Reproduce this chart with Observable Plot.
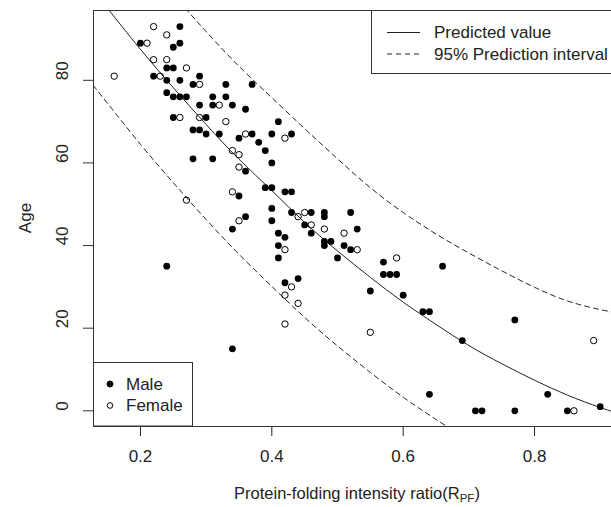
<!DOCTYPE html>
<html><head><meta charset="utf-8">
<script src="https://cdn.jsdelivr.net/npm/d3@7"></script>
<script src="https://cdn.jsdelivr.net/npm/@observablehq/plot@0.6"></script>
<style>
html,body{margin:0;padding:0;background:#fff;overflow:hidden;}
#chart{width:611px;height:507px;overflow:hidden;}
#chart svg{max-width:none !important;}
</style></head><body><div id="chart"></div>
<script>
// Male observations (filled dots)
const maleX = [0.20,0.26,0.26,0.25,0.24,0.25,0.22,0.24,0.26,0.29,0.28,0.33,0.37,0.24,0.25,0.26,0.27,0.31,0.33,0.31,
  0.29,0.34,0.36,0.25,0.30,0.28,0.29,0.30,0.32,0.35,0.37,0.38,0.39,0.41,0.40,0.43,0.28,0.31,0.36,0.40,
  0.39,0.40,0.42,0.43,0.35,0.40,0.43,0.36,0.40,0.34,0.45,0.41,0.42,0.46,0.41,0.41,0.24,0.42,0.44,0.34,
  0.46,0.48,0.48,0.52,0.48,0.49,0.48,0.51,0.53,0.52,0.50,0.57,0.57,0.58,0.59,0.66,0.60,0.63,0.64,0.77,
  0.69,0.64,0.71,0.72,0.77,0.82,0.85,0.90,0.55];
const maleAge = [89,93,89,88,83,83,81,80,80,81,79,79,79,77,76,76,76,76,76,74,
  74,74,73,71,71,68,68,67,67,66,67,65,63,70,67,67,61,61,58,60,
  54,54,53,53,52,49,48,47,46,44,45,43,42,43,40,37,35,31,32,15,
  48,48,47,48,41,41,40,40,44,39,37,36,33,33,33,35,28,24,24,22,
  17,4,0,0,0,4,0,1,29];
// Female observations (open circles)
const femaleX = [0.22,0.24,0.21,0.22,0.24,0.27,0.16,0.23,0.29,0.32,0.26,0.29,0.33,0.36,0.34,0.42,0.35,0.35,
  0.34,0.27,0.35,0.45,0.44,0.46,0.48,0.51,0.53,0.42,0.59,0.43,0.42,0.44,0.42,0.55,0.89,0.86];
const femaleAge = [93,91,89,85,85,83,81,81,79,74,71,71,70,67,63,66,62,59,
  53,51,46,48,47,45,44,43,39,39,37,30,28,26,21,19,17,0];
// Fitted curve and 95% prediction interval
const fitX = [0.13,0.15,0.20,0.25,0.30,0.35,0.40,0.45,0.50,0.55,0.60,0.65,0.70,0.75,0.80,0.85,0.90,0.94];
const fitAge = [101.4,97.4,87.5,78.2,69.3,60.9,53.3,45.6,38.7,32.3,26.3,20.9,15.8,11.4,7.4,3.8,0.8,-1.3];
const upperX = [0.25,0.30,0.35,0.40,0.45,0.50,0.55,0.60,0.65,0.70,0.75,0.80,0.85,0.90,0.94];
const upperAge = [100.7,91.8,83.4,75.8,68.3,61.0,54.0,48.0,42.8,38.2,33.9,29.9,26.6,24.5,23.3];
const lowerX = [0.12,0.13,0.15,0.20,0.25,0.30,0.35,0.40,0.45,0.50,0.55,0.60,0.65,0.70];
const lowerAge = [80.5,78.4,74.4,64.5,55.2,46.3,37.9,30.1,22.6,15.7,9.3,3.3,-2.1,-7.2];
const xTicks = [0.2,0.4,0.6,0.8];
const yTicks = [0,20,40,60,80];
const xTitle = "Protein-folding intensity ratio(R";
const xTitleSub = "PF";
const xTitleEnd = ")";
const yTitle = "Age";
const lineLegend = ["Predicted value","95% Prediction interval"];
const sexLegend = ["Male","Female"];

const male = maleX.map((x,i)=>({x, age: maleAge[i]}));
const female = femaleX.map((x,i)=>({x, age: femaleAge[i]}));
const fit = fitX.map((x,i)=>({x, age: fitAge[i]}));
const upper = upperX.map((x,i)=>({x, age: upperAge[i]}));
const lower = lowerX.map((x,i)=>({x, age: lowerAge[i]}));

const FONT = "'Liberation Sans', Arial, sans-serif";
const FS = 17;
const W = 640, H = 507, ML = 93, MT = 10, MR = 14, MB = 81;

const chart = Plot.plot({
  width: W, height: H,
  marginLeft: ML, marginTop: MT, marginRight: MR, marginBottom: MB,
  style: {fontFamily: FONT, fontSize: FS + "px", color: "#222", background: "#fff", maxWidth: "none"},
  x: {domain: [0.1285, 0.94], ticks: xTicks, tickSize: 10, tickPadding: 13, tickFormat: d3.format(".1f"), label: null},
  y: {domain: [-3.8, 96.9], ticks: yTicks, axis: null, label: null},
  marks: [
    Plot.line(upper, {x: "x", y: "age", stroke: "#222", strokeWidth: 1, strokeDasharray: "5,4", clip: true, curve: "natural"}),
    Plot.line(lower, {x: "x", y: "age", stroke: "#222", strokeWidth: 1, strokeDasharray: "5,4", clip: true, curve: "natural"}),
    Plot.line(fit, {x: "x", y: "age", stroke: "#222", strokeWidth: 1, clip: true, curve: "natural"}),
    Plot.dot(male, {x: "x", y: "age", r: 3.4, fill: "#000", stroke: "none"}),
    Plot.dot(female, {x: "x", y: "age", r: 3.2, fill: "none", stroke: "#000", strokeWidth: 1}),
    Plot.axisY(yTicks, {tickSize: 10, tickFormat: () => "", stroke: "#333", label: null}),
    Plot.text(yTicks, {y: d => d, text: d => String(d), frameAnchor: "left", dx: -31, rotate: -90, fontSize: FS, fill: "#222"}),
    Plot.frame({stroke: "#333", strokeWidth: 1})
  ]
});
chart.style.maxWidth = "none";
document.getElementById("chart").appendChild(chart);

const svg = d3.select(chart);
const plotBottom = H - MB;
// x title with subscript
const xt = svg.append("text")
  .attr("x", 357).attr("y", plotBottom + 73)
  .attr("text-anchor", "middle").attr("font-family", FONT).attr("font-size", 16.5).attr("fill", "#222");
xt.append("tspan").text(xTitle);
xt.append("tspan").attr("font-size", 11.5).attr("dy", 3).text(xTitleSub);
xt.append("tspan").attr("dy", -3).text(xTitleEnd);
// y title
svg.append("text")
  .attr("transform", `translate(31, ${(MT + plotBottom) / 2}) rotate(-90)`)
  .attr("text-anchor", "middle").attr("font-family", FONT).attr("font-size", FS).attr("fill", "#222")
  .text(yTitle);

// Top-right legend (lines)
const g1 = svg.append("g").attr("font-family", FONT).attr("font-size", FS).attr("fill", "#222").attr("text-anchor", "start");
g1.append("rect").attr("x", 371.5).attr("y", MT + 0.5).attr("width", 300).attr("height", 63)
  .attr("fill", "#fff").attr("stroke", "#333");
[0,1].forEach(i => {
  const yy = MT + 22.5 + i * 21.5;
  g1.append("line").attr("x1", 387).attr("x2", 420).attr("y1", yy).attr("y2", yy)
    .attr("stroke", "#222").attr("stroke-dasharray", i ? "5,4" : null);
  g1.append("text").attr("x", 434).attr("y", yy).attr("dy", "0.35em").text(lineLegend[i]);
});
// Bottom-left legend (sex)
const g2 = svg.append("g").attr("font-family", FONT).attr("font-size", FS).attr("fill", "#222").attr("text-anchor", "start");
g2.append("rect").attr("x", ML + 0.5).attr("y", 362.5).attr("width", 99).attr("height", plotBottom - 362.5)
  .attr("fill", "#fff").attr("stroke", "#333");
[0,1].forEach(i => {
  const yy = 384 + i * 21.5;
  g2.append("circle").attr("cx", 110).attr("cy", yy).attr("r", i ? 2.8 : 3)
    .attr("fill", i ? "none" : "#000").attr("stroke", "#000");
  g2.append("text").attr("x", 126).attr("y", yy).attr("dy", "0.35em").text(sexLegend[i]);
});
</script></body></html>
